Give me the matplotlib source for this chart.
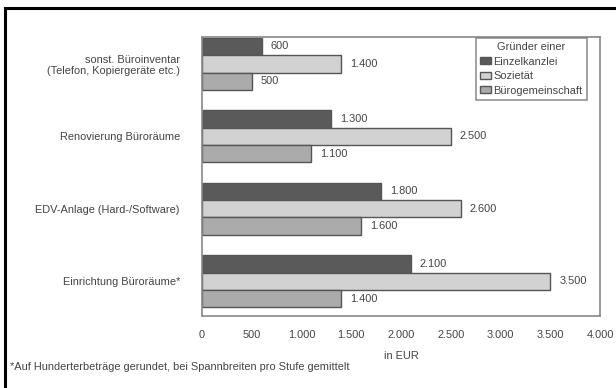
import matplotlib
matplotlib.use("Agg")
import matplotlib.pyplot as plt
from matplotlib.patches import Rectangle

# Data
categories = ["sonst. Büroinventar\n(Telefon, Kopiergeräte etc.)",
              "Renovierung Büroräume",
              "EDV-Anlage (Hard-/Software)",
              "Einrichtung Büroräume*"]
series_names = ["Einzelkanzlei", "Sozietät", "Bürogemeinschaft"]
einzelkanzlei = [600, 1300, 1800, 2100]
sozietaet = [1400, 2500, 2600, 3500]
buerogemeinschaft = [500, 1100, 1600, 1400]
x_ticks = [0, 500, 1000, 1500, 2000, 2500, 3000, 3500, 4000]
x_ticklabels = ["0", "500", "1.000", "1.500", "2.000", "2.500", "3.000", "3.500", "4.000"]

def de(v):
    return f"{v:,}".replace(",", ".")

plt.rcParams["font.family"] = ["Liberation Sans", "DejaVu Sans"]
colors = ["#5a5a5a", "#d2d2d2", "#ababab"]
txt = "#444444"
fs = 7.9

fig = plt.figure(figsize=(6.16, 3.88), dpi=100)
fig.patch.set_facecolor("white")

# outer frame (top and left edge visible)
fig.patches.append(Rectangle((5 / 616, -0.1), 1.2, 1.1 - 8 / 388,
                             transform=fig.transFigure, fill=False,
                             edgecolor="black", linewidth=2.2))

ax = fig.add_axes([202 / 616, 1 - 316 / 388, 398 / 616, 279 / 388])

bar_h = 0.24
offsets = [-bar_h, 0, bar_h]
all_series = [einzelkanzlei, sozietaet, buerogemeinschaft]
ypos = list(range(len(categories)))
for vals, name, c, off in zip(all_series, series_names, colors, offsets):
    ys = [y + off for y in ypos]
    ax.barh(ys, vals, height=bar_h, color=c, edgecolor="#555555", linewidth=1.0, label=name)
    for y, v in zip(ys, vals):
        ax.text(v + 90, y, de(v), va="center", ha="left", fontsize=fs, color=txt)

ax.set_xlim(0, 4000)
ax.set_ylim(3.48, -0.37)
ax.set_xticks(x_ticks)
ax.set_xticklabels(x_ticklabels, fontsize=fs, color=txt)
ax.set_yticks(ypos)
ax.set_yticklabels(categories, fontsize=fs, color=txt)
ax.tick_params(axis="x", length=0, pad=10)
ax.tick_params(axis="y", length=0, pad=16)
for sp in ax.spines.values():
    sp.set_color("#888888")
    sp.set_linewidth(1.2)
ax.set_xlabel("in EUR", fontsize=fs, color=txt, labelpad=8)

leg = ax.legend(title="Gründer einer", loc="upper right", bbox_to_anchor=(0.975, 1.008),
                fontsize=fs, title_fontsize=fs, frameon=True, fancybox=False,
                handlelength=1.0, handleheight=0.6, handletextpad=0.2,
                borderpad=0.4, labelspacing=0.4, alignment="center",
                borderaxespad=0.3)
leg.get_frame().set_edgecolor("#777777")
leg.get_frame().set_linewidth(1.2)
for t in leg.get_texts():
    t.set_color(txt)
leg.get_title().set_color(txt)

fig.text(10 / 616, 1 - 367 / 388,
         "*Auf Hunderterbeträge gerundet, bei Spannbreiten pro Stufe gemittelt",
         fontsize=fs, color=txt, va="center", ha="left")

fig.savefig("out.png", dpi=100)
